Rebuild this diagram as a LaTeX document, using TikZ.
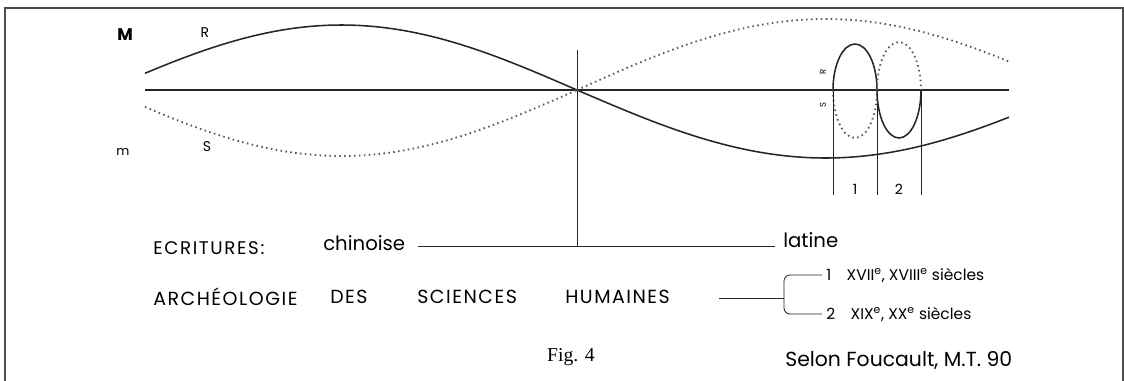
\documentclass[tikz,border=0pt]{standalone}
\usepackage{fontspec}
\setmainfont{Poppins}
\newfontfamily\figfont{Liberation Serif}
\tikzset{
  hand_caps/.style = {inner sep=0pt, anchor=west,
    font=\fontsize{13.5}{16}\selectfont\addfontfeature{LetterSpace=8}},% titre en capitales
  hand_small/.style = {inner sep=0pt, anchor=west,
    font=\fontsize{13}{15}\selectfont\addfontfeature{LetterSpace=9}},
  hand_word/.style = {inner sep=0pt, font=\fontsize{14}{16}\selectfont},% mots manuscrits
  hand_note/.style = {inner sep=0pt, anchor=west, text height=1.6ex, text depth=0.3ex,
    font=\fontsize{11}{13}\selectfont},% periodes 1 et 2
  curve_R/.style = {black!85, line width=1.1pt},% courbe R, trait plein
  curve_S/.style = {black!65, line width=1.3pt, dash pattern=on 1.1pt off 2.4pt},% courbe S, pointilles
  axis_line/.style = {black!85, line width=0.9pt},
  thin_line/.style = {black!85, line width=0.6pt}
}
\begin{document}
\begin{tikzpicture}[x=0.25mm, y=-0.25mm]
  \useasboundingbox (0,0) rectangle (1124,380);
  \draw[black!70, line width=0.8pt] (5,390) -- (5,8) -- (1123,8) -- (1123,390);

  % axe et courbes
  \draw[axis_line] (145,90) -- (1009,90);
  \draw[thin_line] (577,50) -- (577,246);
  \draw[curve_R] plot[domain=145:577, samples=80] (\x, {90-65*sin((\x-106)*0.38217)});
  \draw[curve_R] plot[domain=577:1009, samples=80] (\x, {90+68*sin((\x-577)*0.36217)});
  \draw[curve_S] plot[domain=145:577, samples=80] (\x, {90+66*sin((\x-106)*0.38217)});
  \draw[curve_S] plot[domain=577:1009, samples=80] (\x, {90-71*sin((\x-577)*0.36217)});

  \node[font=\fontsize{12}{13}\selectfont\bfseries] (lab_M) at (125,35) {M};
  \node[font=\fontsize{10}{12}\selectfont] (lab_R) at (205,33) {R};
  \node[font=\fontsize{9}{10}\selectfont] (lab_m) at (123,152) {m};
  \node[font=\fontsize{10}{12}\selectfont] (lab_S) at (207,147) {S};

  % boucles 1 et 2
  \draw[curve_R] (833,90) arc[start angle=180, end angle=360, x radius=22, y radius=46];
  \draw[curve_S] (833,90) arc[start angle=180, end angle=0, x radius=22, y radius=48];
  \draw[curve_R] (877,90) arc[start angle=180, end angle=0, x radius=22, y radius=48];
  \draw[curve_S] (877,90) arc[start angle=180, end angle=360, x radius=22, y radius=48];
  \foreach \xx in {833,877,921}
    \draw[thin_line] (\xx,90) -- (\xx,195);
  \node[font=\fontsize{6}{7}\selectfont, rotate=90] (small_R) at (823,72) {R};
  \node[font=\fontsize{6}{7}\selectfont, rotate=90] (small_S) at (823,105) {S};
  \node[font=\fontsize{10}{12}\selectfont] (per_1) at (855,189) {1};
  \node[font=\fontsize{10}{12}\selectfont] (per_2) at (899,189) {2};

  % ecritures
  \node[hand_small] (ecrit) at (153,248) {ECRITURES:};
  \node[hand_word, anchor=west] (chin) at (323,243) {chinoise};
  \node[hand_word, anchor=west] (lat) at (783,240) {latine};
  \coordinate (ec_a) at (418,246);
  \coordinate (ec_b) at (775,246);
  \draw[thin_line] (ec_a) -- (ec_b);

  % archeologie
  \node[hand_caps] (archeo) at (153,297) {ARCHÉOLOGIE};
  \node[hand_caps] (des) at (330,297) {DES};
  \node[hand_caps] (sciences) at (417,297) {SCIENCES};
  \node[hand_caps] (humaines) at (565,297) {HUMAINES};
  \node[hand_note] (xvii) at (826,275) {1\quad XVII\textsuperscript{e}, XVIII\textsuperscript{e} siècles};
  \node[hand_note] (xix) at (826,314) {2\quad XIX\textsuperscript{e}, XX\textsuperscript{e} siècles};
  \coordinate (brk_a) at (719,298);
  \coordinate (brk) at (784,298);
  \draw[thin_line] (brk_a) -- (brk);
  \draw[thin_line, rounded corners=1.5mm] (brk) |- ([xshift=-1mm]xvii.west);
  \draw[thin_line, rounded corners=1.5mm] (brk) |- ([xshift=-1mm]xix.west);

  \node[font=\figfont\fontsize{14}{16}\selectfont] (fig) at (571,357) {Fig. 4};
  \node[hand_word, anchor=west, font=\fontsize{14.5}{16}\selectfont] (selon) at (785,360) {Selon Foucault, M.T. 90};
\end{tikzpicture}
\end{document}
